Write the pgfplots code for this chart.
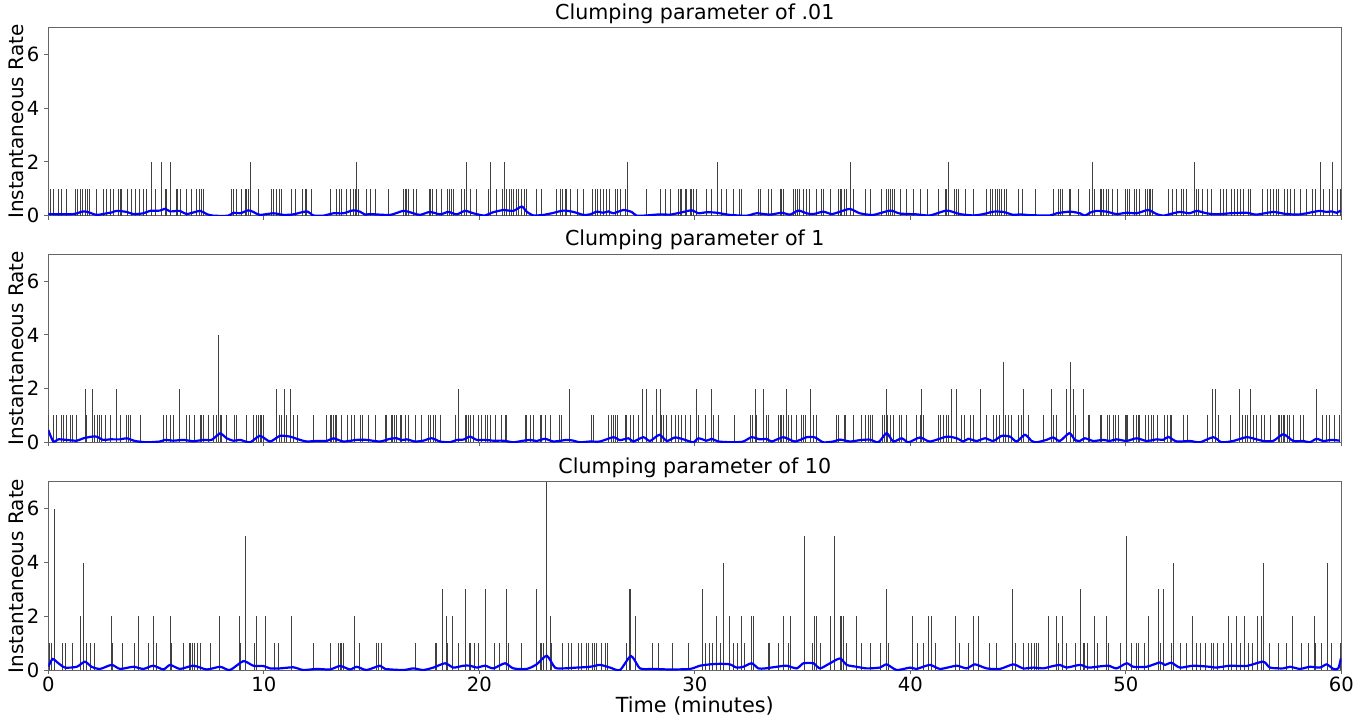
\documentclass[border=0pt]{standalone}
\usepackage{pgfplots}
\pgfplotsset{compat=1.18}
\usepackage{fontspec}
\setmainfont{DejaVu Sans}
\begin{document}
\begin{tikzpicture}
\path[use as bounding box] (-24.15pt,-24.5pt) rectangle (661.35pt,335pt);
\pgfplotsset{
 every axis title/.style={at={(0.5,1)}, anchor=south, inner sep=1.5pt, yshift=0.5pt, font=\fontsize{10.3}{12}\selectfont},
 panel/.style={
  scale only axis, width=646.5pt, height=94pt,
  xmin=0,xmax=60,ymin=0,ymax=7,
  xtick={0,10,...,60}, ytick={0,2,4,6},
  tick align=outside, tick pos=left,
  major tick length=2pt,
  axis line style={black!60, line width=0.5pt},
  every tick/.style={black!60, line width=0.5pt},
  tick label style={font=\fontsize{9.8}{11}\selectfont},
  xticklabel style={yshift=2pt},
  yticklabel style={xshift=1pt},
  /pgf/number format/assume math mode=true,
  ylabel={Instantaneous Rate},
  ylabel style={font=\fontsize{10}{12}\selectfont, at={(axis description cs:-0.0246,0.5)}, anchor=center},
 },
 spikes/.style={ycomb, black!75, line width=0.4pt},
 rate/.style={blue, line width=1.1pt, smooth, tension=0.4},
}
% ---------------- Panel 1 ----------------
\begin{axis}[panel, at={(0,227.15pt)}, xticklabels={}, title={Clumping parameter of .01}]
\addplot[spikes] coordinates {(0.11,1)(0.23,1)(0.47,1)(0.62,1)(0.85,1)(1.24,1)(1.35,1)(1.47,1)(1.60,1)(1.70,1)(1.81,1)(1.89,1)(2.24,1)(2.58,1)(2.68,1)(2.89,1)(3.02,1)(3.25,1)(3.33,1)(3.40,1)(3.67,1)(3.87,1)(4.02,1)(4.21,1)(4.41,1)(4.56,1)(4.80,2)(4.95,1)(5.26,2)(5.42,1)(5.49,1)(5.65,2)(5.96,1)(6.00,1)(6.11,1)(6.42,1)(6.65,1)(6.88,1)(7.01,1)(7.12,1)(7.19,1)(8.51,1)(8.59,1)(8.74,1)(8.97,1)(9.13,1)(9.20,1)(9.28,1)(9.36,2)(9.75,1)(10.37,1)(10.44,1)(10.60,1)(10.72,1)(10.83,1)(11.29,1)(11.45,1)(11.80,1)(11.91,1)(11.99,1)(12.22,1)(13.07,1)(13.38,1)(13.49,1)(13.61,1)(13.85,1)(14.00,1)(14.15,1)(14.23,1)(14.28,2)(14.39,1)(14.77,1)(14.93,1)(15.16,1)
(15.78,1)(16.48,1)(16.55,1)(16.63,1)(16.71,1)(16.94,1)(17.10,1)(17.68,1)(17.75,1)(17.84,1)(18.02,1)(18.26,1)(18.52,1)(18.61,1)(18.72,1)(18.80,1)(19.18,1)(19.29,1)(19.39,2)(19.57,1)(19.85,1)(20.42,1)(20.53,2)(20.81,1)(21.09,1)(21.16,2)(21.27,1)(21.40,1)(21.50,1)(21.58,1)(21.71,1)(21.81,1)(21.97,1)(22.08,1)(22.17,1)(22.66,1)(22.90,1)(23.59,1)(23.75,1)(23.87,1)(23.98,1)(24.06,1)(24.21,1)(24.55,1)(24.83,1)(25.26,1)(25.37,1)(25.48,1)(25.60,1)(25.76,1)(25.91,1)(26.04,1)(26.30,1)(26.41,1)(26.53,1)(26.76,1)(26.87,2)(27.74,1)(28.42,1)(28.62,1)(28.85,1)(29.24,1)(29.31,1)(29.39,1)(29.55,1)(29.62,1)(29.78,1)(29.86,1)(29.93,1)(30.09,1)(30.55,1)
(30.78,1)(31.06,2)(31.25,1)(31.48,1)(31.79,1)(32.07,1)(32.17,1)(32.95,1)(33.06,1)(33.41,1)(33.57,1)(33.95,1)(34.03,1)(34.11,1)(34.57,1)(34.65,1)(34.76,1)(34.85,1)(35.04,1)(35.16,1)(35.34,1)(35.62,1)(35.89,1)(35.96,1)(36.27,1)(36.66,1)(36.74,1)(36.81,1)(36.92,1)(37.05,1)(37.20,2)(37.36,1)(37.90,1)(38.13,1)(38.67,1)(38.90,1)(38.98,1)(39.09,1)(39.18,1)(39.24,1)(39.52,1)(39.80,1)(40.14,1)(40.45,1)(40.79,1)(41.30,1)(41.61,1)(41.69,1)(41.76,2)(42.03,1)(42.12,1)(42.23,1)(42.54,1)(42.92,1)(43.51,1)(43.70,1)(43.82,1)(43.93,1)(44.04,1)(44.13,1)(44.24,1)(44.35,1)(44.44,1)(45.01,1)(45.21,1)(45.79,1)
(46.66,1)(46.87,1)(46.97,1)(47.07,1)(47.38,1)(47.44,1)(47.79,1)(48.30,1)(48.46,2)(48.52,1)(48.80,1)(48.88,1)(48.98,1)(49.08,1)(49.19,1)(49.39,1)(49.60,1)(49.96,1)(50.07,1)(50.16,1)(50.38,1)(50.47,1)(50.65,1)(50.89,1)(51.00,1)(51.09,1)(51.15,1)(51.24,1)(51.97,1)(52.17,1)(52.36,1)(52.59,1)(52.67,1)(52.79,1)(53.16,2)(53.28,1)(53.36,1)(53.56,1)(53.78,1)(53.98,1)(54.40,1)(54.55,1)(54.68,1)(54.91,1)(55.02,1)(55.17,1)(55.33,1)(55.45,1)(55.68,1)(55.76,1)(56.35,1)(56.56,1)(56.72,1)(56.84,1)(56.97,1)(57.07,1)(57.34,1)(57.49,1)(57.65,1)(57.80,1)(58.11,1)(58.36,1)(58.67,1)(58.78,1)(59.01,2)(59.19,1)(59.44,1)(59.59,2)(59.81,1)(59.94,1)};
\addplot[rate] coordinates {(0.0,0.06)(1.16,0.06)(1.55,0.15)(1.78,0.15)(2.24,0.03)(2.71,0.09)(2.94,0.12)(3.17,0.18)(3.64,0.14)(3.95,0.06)(4.41,0.09)(4.72,0.18)(5.18,0.19)(5.42,0.26)(5.65,0.16)(6.11,0.18)(6.42,0.06)(7.04,0.18)(7.35,0.06)(7.66,0)(8.35,0)(8.59,0.11)(8.9,0.09)(9.28,0.2)(9.51,0.14)(9.82,0.03)(10.44,0.09)(10.91,0.03)(11.37,0.05)(11.99,0.16)(12.3,0.01)(12.76,0)(13.23,0.09)(13.69,0.09)(14.15,0.2)(14.46,0.15)(14.7,0.04)
(14.93,0.06)(15.86,0.03)(16.48,0.18)(16.94,0.09)(17.25,0.03)(17.71,0.14)(18.18,0.05)(18.56,0.14)(18.95,0.05)(19.34,0.18)(19.72,0.09)(20.03,0.03)(20.27,0.01)(20.65,0.13)(21.12,0.21)(21.58,0.18)(21.97,0.34)(22.2,0.15)(22.51,0.01)(22.97,0.03)(23.36,0.09)(23.9,0.19)(24.37,0.14)(24.83,0.03)(25.14,0.05)(25.45,0.15)(25.76,0.11)(25.99,0.16)(26.22,0.09)(26.69,0.21)(27.07,0.14)(27.3,0)(27.77,0.01)(28.39,0.05)(28.85,0.04)(29.31,0.11)(29.86,0.2)(30.17,0.09)(30.55,0.13)
(30.9,0.12)(31.17,0.09)(31.63,0.03)(32.41,0)(32.87,0.09)(33.49,0.04)(34.03,0.11)(34.42,0.04)(34.80,0.19)(35.19,0.09)(35.5,0.06)(35.96,0.15)(36.35,0.06)(36.74,0.15)(37.2,0.25)(37.66,0.09)(38.28,0.03)(39.06,0.19)(39.52,0.08)(40.29,0.05)(40.91,0.01)(41.69,0.19)(42.3,0.06)(42.92,0.01)(43.39,0.06)(43.85,0.15)(44.32,0.14)(44.78,0.03)(45.09,0.05)(45.55,0.02)
(46.48,0.01)(46.79,0.09)(47.41,0.15)(47.87,0.09)(48.1,0)(48.33,0.11)(48.64,0.18)(49.11,0.15)(49.57,0.06)(50.04,0.11)(50.5,0.09)(51.04,0.21)(51.43,0.06)(51.74,0)(52.05,0.06)(52.51,0.14)(52.97,0.09)(53.28,0.18)(53.75,0.09)(54.21,0.05)(54.83,0.09)(55.6,0.11)(56.07,0.04)(56.84,0.14)(57.46,0.06)(58.08,0.05)(58.7,0.14)(59.01,0.18)(59.32,0.14)(59.55,0.16)(59.78,0.11)(59.97,0.19)};
\end{axis}
% ---------------- Panel 2 ----------------
\begin{axis}[panel, at={(0,113.85pt)}, xticklabels={}, title={Clumping parameter of 1}]
\addplot[spikes] coordinates {(0.01,1)(0.23,1)(0.36,1)(0.62,1)(0.70,1)(0.82,1)(1.04,1)(1.13,1)(1.32,1)(1.70,2)(1.78,1)(2.06,2)(2.12,1)(2.28,1)(2.37,1)(2.48,1)(2.63,1)(2.86,1)(3.14,2)(3.33,1)(3.64,1)(3.71,1)(3.79,1)(4.26,1)(5.34,1)(5.46,1)(5.68,1)(5.80,1)(6.08,2)(6.42,1)(6.54,1)(6.76,1)(7.04,1)(7.12,1)(7.19,1)(7.43,1)(7.66,1)(7.81,1)(7.89,4)(7.97,1)(8.05,1)(8.28,1)(8.62,1)(8.74,1)(9.17,1)(9.51,1)(9.64,1)(9.75,1)(9.82,1)(9.90,1)(9.98,1)(10.60,2)(10.72,1)(10.83,1)(10.94,2)(11.06,1)(11.22,2)(11.37,1)(11.56,1)(12.30,1)(12.89,1)(13.07,1)(13.15,1)(13.23,1)(13.30,1)(13.38,1)(13.61,1)(13.88,1)(14.08,1)(14.19,1)(14.46,1)(14.59,1)(14.85,1)(15.16,1)
(15.63,1)(15.70,1)(15.94,1)(15.98,1)(16.04,1)(16.14,1)(16.32,1)(16.40,1)(16.55,1)(16.71,1)(17.02,1)(17.33,1)(17.64,1)(17.75,1)(17.87,1)(17.95,1)(18.21,1)(18.87,1)(19.03,2)(19.34,1)(19.42,1)(19.49,1)(19.57,1)(19.73,1)(19.96,1)(20.11,1)(20.27,1)(20.37,1)(20.53,1)(20.73,1)(21.04,1)(21.19,1)(21.27,1)(22.12,1)(22.20,1)(22.35,1)(22.51,1)(22.82,1)(22.90,1)(23.05,1)(23.28,1)(23.72,1)(23.82,1)(24.18,2)(25.22,1)(25.29,1)(25.99,1)(26.14,1)(26.22,1)(26.30,1)(26.41,1)(26.76,1)(26.84,1)(26.99,1)(27.15,1)(27.38,1)(27.58,2)(27.77,2)(28.05,1)(28.20,2)(28.39,2)(28.46,1)(28.54,1)(28.70,1)(28.93,1)(29.08,1)(29.24,1)(29.39,1)(29.55,1)(29.78,1)(30.09,2)(30.17,1)(30.48,1)
(30.78,2)(30.86,1)(31.09,1)(31.82,1)(32.59,1)(32.68,1)(32.79,2)(32.87,1)(33.18,2)(33.30,1)(33.41,1)(33.87,1)(33.95,1)(34.03,1)(34.11,1)(34.23,2)(34.34,1)(34.49,1)(34.73,1)(34.96,1)(35.04,1)(35.11,1)(35.38,2)(35.50,1)(35.65,1)(36.55,1)(36.66,1)(36.92,1)(36.97,1)(37.36,1)(37.74,1)(37.90,1)(38.05,1)(38.13,1)(38.25,1)(38.72,1)(38.82,1)(38.87,2)(38.95,1)(39.06,1)(39.21,1)(39.49,1)(39.57,1)(39.60,1)(39.83,1)(40.29,1)(40.45,1)(40.53,2)(40.60,1)(41.30,1)(41.38,1)(41.53,1)(41.66,1)(41.76,1)(41.92,2)(42.15,2)(42.38,1)(42.49,1)(42.77,1)(42.92,1)(43.26,2)(43.51,1)(43.85,1)(44.01,1)(44.13,1)(44.32,3)(44.39,1)(44.55,1)(44.70,1)(45.01,1)(45.17,1)(45.27,2)(45.48,1)
(46.17,1)(46.56,2)(46.66,1)(46.79,1)(47.25,2)(47.41,3)(47.56,2)(47.64,1)(48.02,2)(48.26,1)(48.33,1)(48.80,1)(48.88,1)(49.14,1)(49.26,1)(49.42,1)(49.54,1)(49.65,1)(49.96,1)(50.04,1)(50.07,1)(50.35,1)(50.47,1)(50.58,1)(50.65,1)(50.89,1)(51.04,1)(51.20,1)(51.30,1)(51.46,1)(51.81,1)(51.92,1)(52.05,1)(52.12,1)(52.67,1)(52.85,1)(53.78,1)(54.03,2)(54.18,2)(54.29,1)(54.86,1)(55.29,2)(55.42,1)(55.57,1)(55.64,1)(55.76,2)(55.91,1)(56.07,1)(56.30,1)(56.45,1)(56.69,1)(57.07,1)(57.15,1)(57.23,1)(57.31,1)(57.38,1)(57.49,1)(57.58,1)(57.77,1)(58.08,1)(58.23,1)(58.85,2)(59.13,1)(59.32,1)(59.47,1)(59.70,1)(59.90,1)};
\addplot[rate] coordinates {(0.0,0.46)(0.23,0.03)(0.47,0.11)(0.85,0.09)(1.32,0.06)(1.63,0.15)(2.01,0.21)(2.24,0.21)(2.55,0.09)(2.86,0.11)(3.33,0.11)(3.64,0.15)(4.02,0.05)(4.56,0)(5.18,0.03)(5.42,0.09)(5.80,0.06)(6.27,0.09)(6.73,0.04)(7.19,0.09)(7.58,0.09)(7.97,0.33)(8.28,0.15)(8.59,0.06)(8.9,0.09)(9.36,0)(9.82,0.24)(10.29,0.03)(10.75,0.24)(11.22,0.21)(11.68,0.09)(11.99,0.03)(12.45,0.05)(12.92,0.05)(13.23,0.15)(13.69,0.03)(14.31,0.09)(14.77,0.09)
(15.39,0.03)(15.86,0.13)(16.17,0.15)(16.4,0.08)(16.63,0.11)(17.02,0.03)(17.4,0.06)(17.79,0.15)(18.18,0.03)(18.64,0)(18.95,0.09)(19.26,0.1)(19.57,0.21)(19.88,0.09)(20.27,0.09)(20.65,0.06)(21.12,0.06)(21.58,0)(21.97,0.05)(22.35,0.09)(22.66,0.05)(23.05,0.13)(23.44,0.03)(24.06,0.09)(24.37,0.06)(24.67,0)(25.14,0.03)(25.6,0.03)(26.22,0.19)(26.53,0.08)(26.92,0.15)(27.15,0.03)(27.61,0.19)(27.92,0.05)(28.36,0.28)(28.7,0.05)(29.08,0.18)(29.47,0.11)(29.93,0)(30.17,0.15)(30.55,0.06)
(30.78,0.13)(31.09,0.03)(31.79,0)(32.25,0.03)(32.64,0.19)(33.02,0.11)(33.33,0.13)(33.57,0.03)(34.11,0.19)(34.65,0.03)(35.19,0.19)(35.58,0.18)(35.96,0)(36.43,0.03)(36.74,0.1)(37.2,0.03)(37.66,0.08)(38.13,0.1)(38.52,0)(38.9,0.34)(39.21,0.03)(39.6,0.15)(39.91,0)(40.45,0.18)(40.91,0.03)(41.69,0.21)(42.15,0.15)(42.46,0.03)(42.69,0.13)(43.08,0.05)(43.47,0.15)(43.85,0.05)(44.24,0.24)(44.63,0.21)(44.93,0.03)(45.32,0.28)(45.63,0.05)
(45.86,0)(46.32,0.09)(46.63,0.18)(46.94,0.05)(47.38,0.34)(47.64,0.09)(47.87,0.05)(48.1,0.15)(48.49,0.05)(48.95,0.09)(49.26,0.05)(49.57,0.11)(50.04,0.05)(50.5,0.15)(50.96,0.05)(51.43,0.11)(51.74,0.09)(51.97,0.2)(52.36,0.03)(52.97,0.05)(53.44,0)(54.06,0.19)(54.44,0)(54.99,0.05)(55.6,0.19)(56.07,0.11)(56.38,0.05)(56.84,0.05)(57.31,0.3)(57.77,0.05)(58.23,0.05)(58.54,0)(58.85,0.13)(59.16,0.05)(59.55,0.09)(59.93,0.06)};
\end{axis}
% ---------------- Panel 3 ----------------
\begin{axis}[panel, at={(0,0)}, title={Clumping parameter of 10}, xlabel={Time (minutes)},
  xlabel style={font=\fontsize{10.4}{12}\selectfont, at={(axis description cs:0.5,0)}, anchor=north, yshift=-9.6pt}]
\addplot[spikes] coordinates {(0.03,1)(0.16,1)(0.28,6)(0.67,1)(0.78,1)(1.13,1)(1.47,2)(1.63,4)(1.75,1)(1.94,1)(2.12,1)(2.91,2)(2.96,1)(3.45,1)(4.00,1)(4.18,2)(4.64,1)(4.87,2)(5.03,1)(5.65,2)(5.72,1)(6.27,1)(6.55,1)(6.61,1)(6.70,1)(6.76,1)(6.92,1)(7.04,1)(7.50,1)(7.94,2)(8.86,2)(8.93,1)(9.13,5)(9.55,1)(9.64,2)(10.09,2)(10.49,1)(10.69,1)(11.29,2)(12.30,1)(13.07,1)(13.46,1)(13.54,1)(13.61,1)(13.69,1)(14.19,2)(14.43,1)(15.24,1)(15.31,1)
(15.44,1)(17.02,1)(17.95,1)(17.99,1)(18.30,3)(18.46,2)(18.52,1)(18.77,2)(19.03,1)(19.34,3)(19.54,1)(19.57,1)(19.76,1)(19.96,1)(20.27,3)(20.70,1)(20.93,1)(21.27,3)(21.35,1)(21.94,1)(22.63,3)(22.82,1)(22.90,1)(22.97,1)(23.13,7)(23.28,2)(23.36,1)(23.87,1)(24.13,1)(24.29,1)(24.60,1)(24.75,1)(24.95,1)(25.06,1)(25.26,1)(25.32,1)(25.42,1)(25.68,1)(25.83,1)(25.94,1)(26.81,1)(26.96,3)(27.03,3)(27.23,2)(28.05,1)(28.31,1)(28.97,1)(29.70,1)(30.37,3)(30.48,1)
(30.67,1)(30.83,1)(31.01,2)(31.20,1)(31.32,4)(31.60,2)(31.79,1)(31.97,1)(32.17,2)(32.30,1)(32.64,2)(32.71,2)(33.41,1)(33.46,1)(33.87,1)(34.11,2)(34.34,1)(34.45,2)(35.08,5)(35.47,1)(35.53,2)(35.62,2)(35.84,1)(36.27,2)(36.50,5)(36.74,2)(36.81,2)(36.89,2)(37.05,1)(37.51,2)(37.74,1)(38.13,1)(38.59,1)(38.90,3)(38.98,1)(40.09,2)(40.33,1)(40.63,1)(40.85,2)(40.99,2)(41.15,1)(42.07,2)(42.30,1)(42.69,1)(42.95,2)(43.16,2)(43.65,1)(43.98,1)(44.73,3)(44.86,1)(45.27,1)(45.48,1)(45.63,1)
(45.74,1)(45.83,1)(45.94,1)(46.40,2)(46.79,2)(46.86,1)(47.07,2)(47.25,1)(47.64,1)(47.90,3)(48.02,1)(48.10,1)(48.21,1)(48.54,2)(48.69,1)(49.11,2)(49.19,1)(49.73,1)(50.04,5)(50.27,1)(50.47,1)(50.59,1)(50.86,1)(51.04,2)(51.51,3)(51.61,1)(51.74,3)(52.12,1)(52.19,4)(52.51,1)(52.82,1)(53.10,2)(53.28,1)(53.47,1)(53.67,1)(53.98,1)(54.06,1)(54.24,1)(54.55,1)(54.74,2)(54.88,1)(55.11,2)(55.30,1)(55.48,2)(55.68,1)(55.88,1)(56.10,2)(56.30,2)(56.39,4)(56.66,1)(57.07,1)(57.46,1)(57.74,2)(58.16,1)(58.47,1)(58.73,2)(58.78,1)(59.08,1)(59.35,4)(59.55,1)(59.97,1)};
\addplot[rate] coordinates {(0.0,0.12)(0.2,0.41)(0.47,0.25)(0.78,0.09)(1.32,0.12)(1.7,0.31)(2.01,0.12)(2.4,0.04)(2.94,0.19)(3.33,0.04)(3.95,0.12)(4.41,0.04)(4.87,0.16)(5.34,0.02)(5.65,0.19)(6.11,0.04)(6.73,0.16)(7.35,0.02)(7.97,0.12)(8.43,0)(9.05,0.33)(9.51,0.16)(9.98,0.15)(10.29,0.06)(10.75,0.06)(11.37,0.1)(11.83,0)(12.45,0.04)(13.07,0.02)(13.54,0.15)(14.0,0.02)(14.31,0.12)(14.77,0)(15.39,0.16)
(15.63,0.04)(16.48,0)(16.94,0.06)(17.4,0)(17.87,0.09)(18.41,0.25)(18.8,0.09)(19.26,0.16)(19.57,0.16)(19.88,0.09)(20.27,0.16)(20.65,0.06)(21.19,0.25)(21.58,0.06)(22.2,0.04)(22.66,0.21)(23.13,0.53)(23.51,0.09)(23.9,0.06)(24.52,0.09)(25.14,0.12)(25.6,0.19)(26.07,0.09)(26.53,0)(27.04,0.52)(27.46,0.06)(28.08,0.04)(28.85,0.02)(29.78,0.04)(30.24,0.16)(30.71,0.21)
(31.17,0.23)(31.63,0.21)(31.94,0.09)(32.25,0.12)(32.64,0.25)(32.95,0.06)(33.26,0.06)(33.8,0.12)(34.26,0.16)(34.73,0.06)(35.04,0.25)(35.5,0.25)(35.81,0.06)(36.27,0.25)(36.74,0.43)(37.05,0.19)(37.51,0.12)(37.97,0.06)(38.59,0.09)(38.9,0.21)(39.37,0)(39.99,0.09)(40.29,0.04)(40.91,0.19)(41.38,0.04)(42.15,0.16)(42.61,0.06)(43.0,0.21)(43.54,0.06)(44.16,0.04)(44.78,0.21)(45.24,0.06)(45.71,0.09)
(46.17,0.06)(46.48,0.12)(46.94,0.19)(47.25,0.09)(47.87,0.19)(48.26,0.09)(48.64,0.12)(49.19,0.16)(49.57,0.06)(50.04,0.25)(50.35,0.12)(50.96,0.12)(51.58,0.28)(51.81,0.19)(52.12,0.27)(52.51,0.09)(53.13,0.16)(53.9,0.12)(54.21,0.09)(54.83,0.16)(55.6,0.15)(56.38,0.31)(56.69,0.09)(57.31,0.06)(57.62,0.12)(58.08,0.04)(58.54,0.12)(59.01,0.09)(59.32,0.21)(59.63,0.04)(59.86,0.06)(59.98,0.43)};
\end{axis}
\end{tikzpicture}
\end{document}
